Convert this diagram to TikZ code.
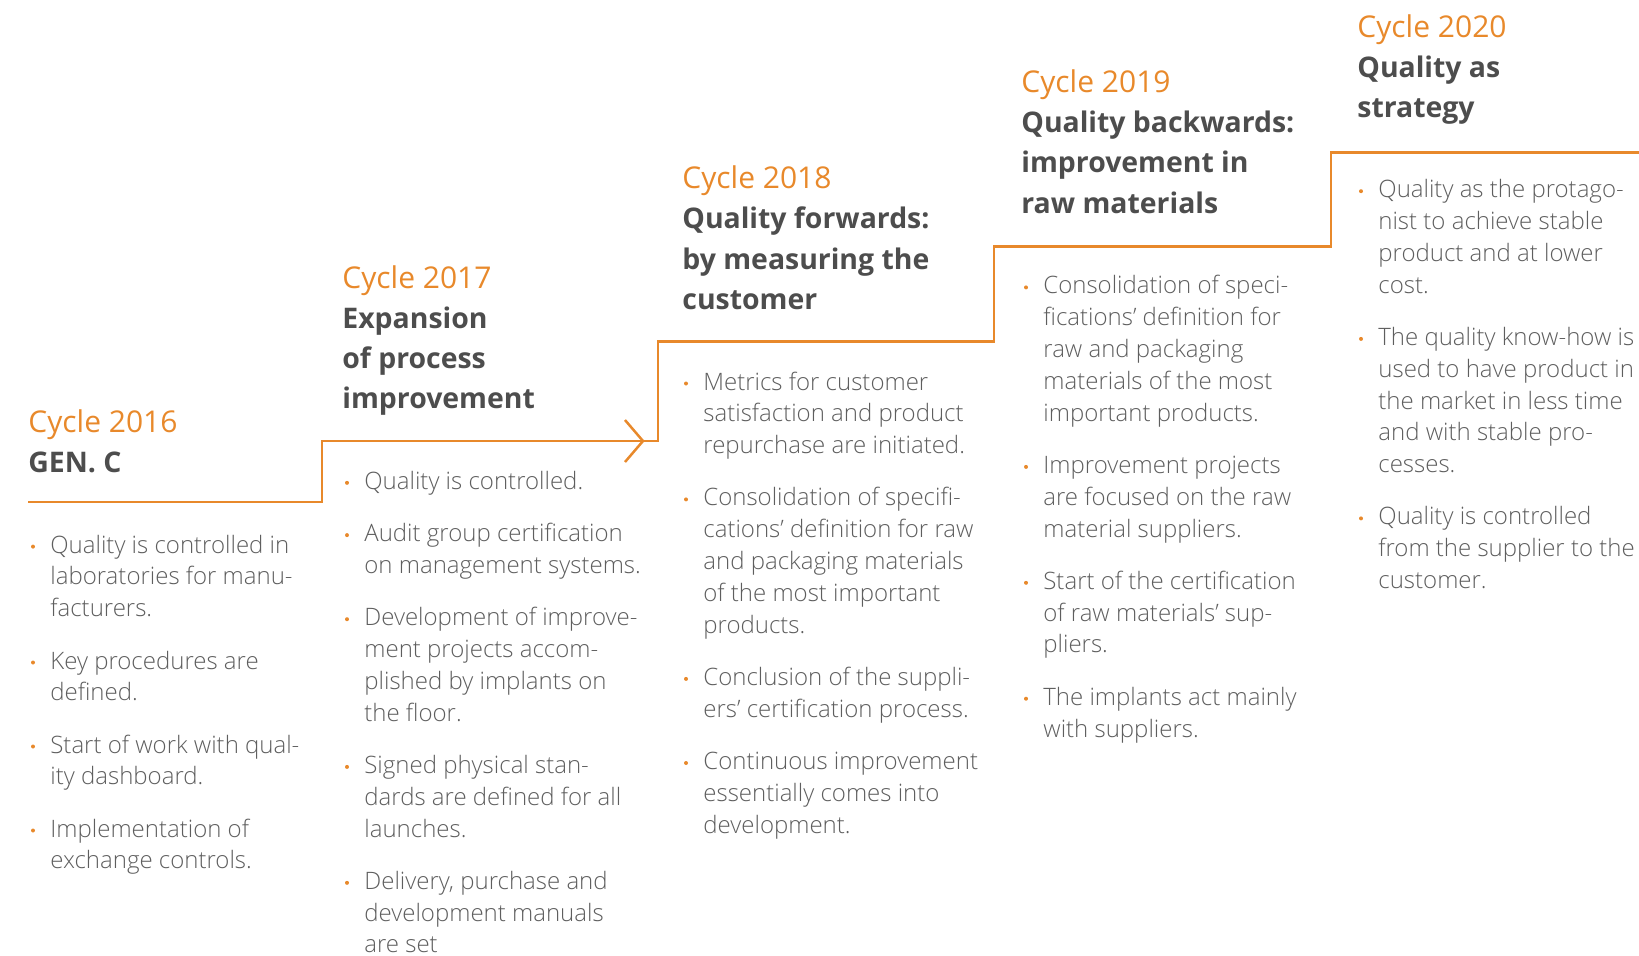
\documentclass[tikz,border=0pt]{standalone}
\usepackage{fontspec}
\IfFontExistsTF{Open Sans Light}{\newfontfamily\bodyfont{Open Sans Light}}{\newfontfamily\bodyfont{Open Sans}}
\newfontfamily\cycfont{Open Sans}
\newfontfamily\ttlfont{Open Sans}
\definecolor{orng}{HTML}{E8892B}
\definecolor{ttlc}{HTML}{4D4D4D}
\definecolor{bdyc}{HTML}{5E5E5E}
\tikzset{
  stair/.style={draw=orng, line width=1.25pt, line join=miter},
  cyc/.style={anchor=base west, inner sep=0pt, text=orng, font=\cycfont\fontsize{15.0}{20.1}\selectfont},
  ttl/.style={anchor=base west, inner sep=0pt, text=ttlc, font=\ttlfont\bfseries\fontsize{14.2}{20.1}\selectfont},
  bul/.style={anchor=base west, inner sep=0pt, text=bdyc, font=\bodyfont\fontsize{12.0}{15.9}\selectfont},
  bdot/.style={circle, fill=orng, inner sep=0pt, minimum size=2pt}
}
\newcommand\bitem[4]{%
  \node[bdot] (#1d) at ({#2-17},{#3-6.5}) {};
  \node[bul] (#1) at (#2,#3) {\begin{tabular}[t]{@{}l@{}}#4\end{tabular}};}
\newcommand\head[5]{%
  \node[cyc] (#1c) at (#2,#3) {#4};
  \node[ttl] (#1t) at (#2,{#3+40.2}) {\begin{tabular}[t]{@{}l@{}}#5\end{tabular}};}
\begin{document}
\begin{tikzpicture}[x=0.5pt,y=-0.5pt]
\useasboundingbox (0,0) rectangle (1639,955);
% staircase
\coordinate (s0) at (28,502);
\coordinate (s1) at (322,502);
\coordinate (s2) at (322,441);
\coordinate (s3) at (658,441);
\coordinate (s4) at (658,341.5);
\coordinate (s5) at (994,341.5);
\coordinate (s6) at (994,246.7);
\coordinate (s7) at (1331,246.7);
\coordinate (s8) at (1331,152.6);
\coordinate (s9) at (1639,152.6);
\draw[stair] (s0) -- (s1) -- (s2) -- (s3) -- (s4) -- (s5) -- (s6) -- (s7) -- (s8) -- (s9);
\coordinate (tip) at (643,441);
\coordinate (a1) at (625,420);
\coordinate (a2) at (625,462);
\draw[stair] (a1) -- (tip) -- (a2);
% column 1
\head{h1}{28}{432.3}{Cycle 2016}{GEN. C}
\bitem{c1a}{50}{553.1}{Quality is controlled in\\laboratories for manu-\\facturers.}
\bitem{c1b}{50}{669}{Key procedures are\\defined.}
\bitem{c1c}{50}{753}{Start of work with qual-\\ity dashboard.}
\bitem{c1d}{50}{837}{Implementation of\\exchange controls.}
% column 2
\head{h2}{342}{288}{Cycle 2017}{Expansion\\of process\\improvement}
\bitem{c2a}{364}{489.3}{Quality is controlled.}
\bitem{c2b}{364}{541.6}{Audit group certification\\on management systems.}
\bitem{c2c}{364}{625.7}{Development of improve-\\ment projects accom-\\plished by implants on\\the floor.}
\bitem{c2d}{364}{773.4}{Signed physical stan-\\dards are defined for all\\launches.}
\bitem{c2e}{364}{889.3}{Delivery, purchase and\\development manuals\\are set}
% column 3
\head{h3}{682}{188.7}{Cycle 2018}{Quality forwards:\\by measuring the\\customer}
\bitem{c3a}{703}{390}{Metrics for customer\\satisfaction and product\\repurchase are initiated.}
\bitem{c3b}{703}{505.9}{Consolidation of specifi-\\cations’ definition for raw\\and packaging materials\\of the most important\\products.}
\bitem{c3c}{703}{685.4}{Conclusion of the suppli-\\ers’ certification process.}
\bitem{c3d}{703}{769.5}{Continuous improvement\\essentially comes into\\development.}
% column 4
\head{h4}{1021}{92.5}{Cycle 2019}{Quality backwards:\\improvement in\\raw materials}
\bitem{c4a}{1043}{293.9}{Consolidation of speci-\\fications’ definition for\\raw and packaging\\materials of the most\\important products.}
\bitem{c4b}{1043}{473.4}{Improvement projects\\are focused on the raw\\material suppliers.}
\bitem{c4c}{1043}{589.3}{Start of the certification\\of raw materials’ sup-\\pliers.}
\bitem{c4d}{1043}{705.2}{The implants act mainly\\with suppliers.}
% column 5
\head{h5}{1357}{37.1}{Cycle 2020}{Quality as\\strategy}
\bitem{c5a}{1378}{197.7}{Quality as the protago-\\nist to achieve stable\\product and at lower\\cost.}
\bitem{c5b}{1378}{345.4}{The quality know-how is\\used to have product in\\the market in less time\\and with stable pro-\\cesses.}
\bitem{c5c}{1378}{524.9}{Quality is controlled\\from the supplier to the\\customer.}
\end{tikzpicture}
\end{document}
